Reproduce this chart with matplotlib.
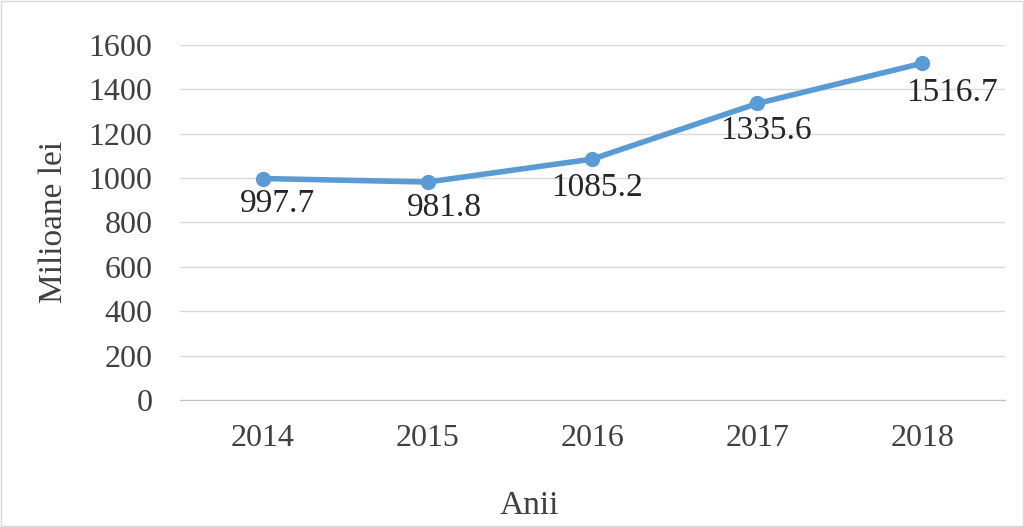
import matplotlib.pyplot as plt
from matplotlib.patches import Rectangle

years = ["2014", "2015", "2016", "2017", "2018"]
values = [997.7, 981.8, 1085.2, 1335.6, 1516.7]
# label offsets in pixels (dx, dy) relative to each point
label_dx = [15, 17, 5, 9, 30]
label_dy = [-25, -26, -29, -27, -29]

plt.rcParams['font.family'] = ['Liberation Serif', 'DejaVu Serif']

fig = plt.figure(figsize=(10.24, 5.27), dpi=100)
ax = fig.add_axes([0.176, 0.241, 0.805, 0.674])

x = list(range(len(years)))
ax.plot(x, values, color='#5B9BD5', linewidth=4, marker='o', markersize=10,
        solid_capstyle='round', zorder=3)

for i, v in enumerate(values):
    ax.annotate(f"{v:.1f}", (x[i], v), xytext=(label_dx[i] * 0.72, label_dy[i] * 0.72),
                textcoords='offset points', ha='center', va='center', fontsize=24,
                color='#262626')

ax.set_xlim(-0.5, len(years) - 0.5)
ax.set_ylim(0, 1600)
ax.set_yticks(range(0, 1601, 200))
ax.set_xticks(x)
ax.set_xticklabels(years)
ax.tick_params(axis='both', length=0, labelsize=23, labelcolor='#404040')
ax.tick_params(axis='y', pad=20)
ax.tick_params(axis='x', pad=17)
ax.grid(axis='y', color='#D9D9D9', linewidth=1)
ax.set_axisbelow(True)
for s in ['top', 'right', 'left']:
    ax.spines[s].set_visible(False)
ax.spines['bottom'].set_color('#BFBFBF')

ax.set_ylabel("Milioane lei", fontsize=24, color='#404040', labelpad=14)
fig.text(0.517, 0.04, "Anii", ha='center', va='center', fontsize=24, color='#404040')

fig.patches.append(Rectangle((0.001, 0.001), 0.998, 0.998, transform=fig.transFigure,
                             fill=False, edgecolor='#D9D9D9', linewidth=1))

fig.savefig('out.png', dpi=100)
